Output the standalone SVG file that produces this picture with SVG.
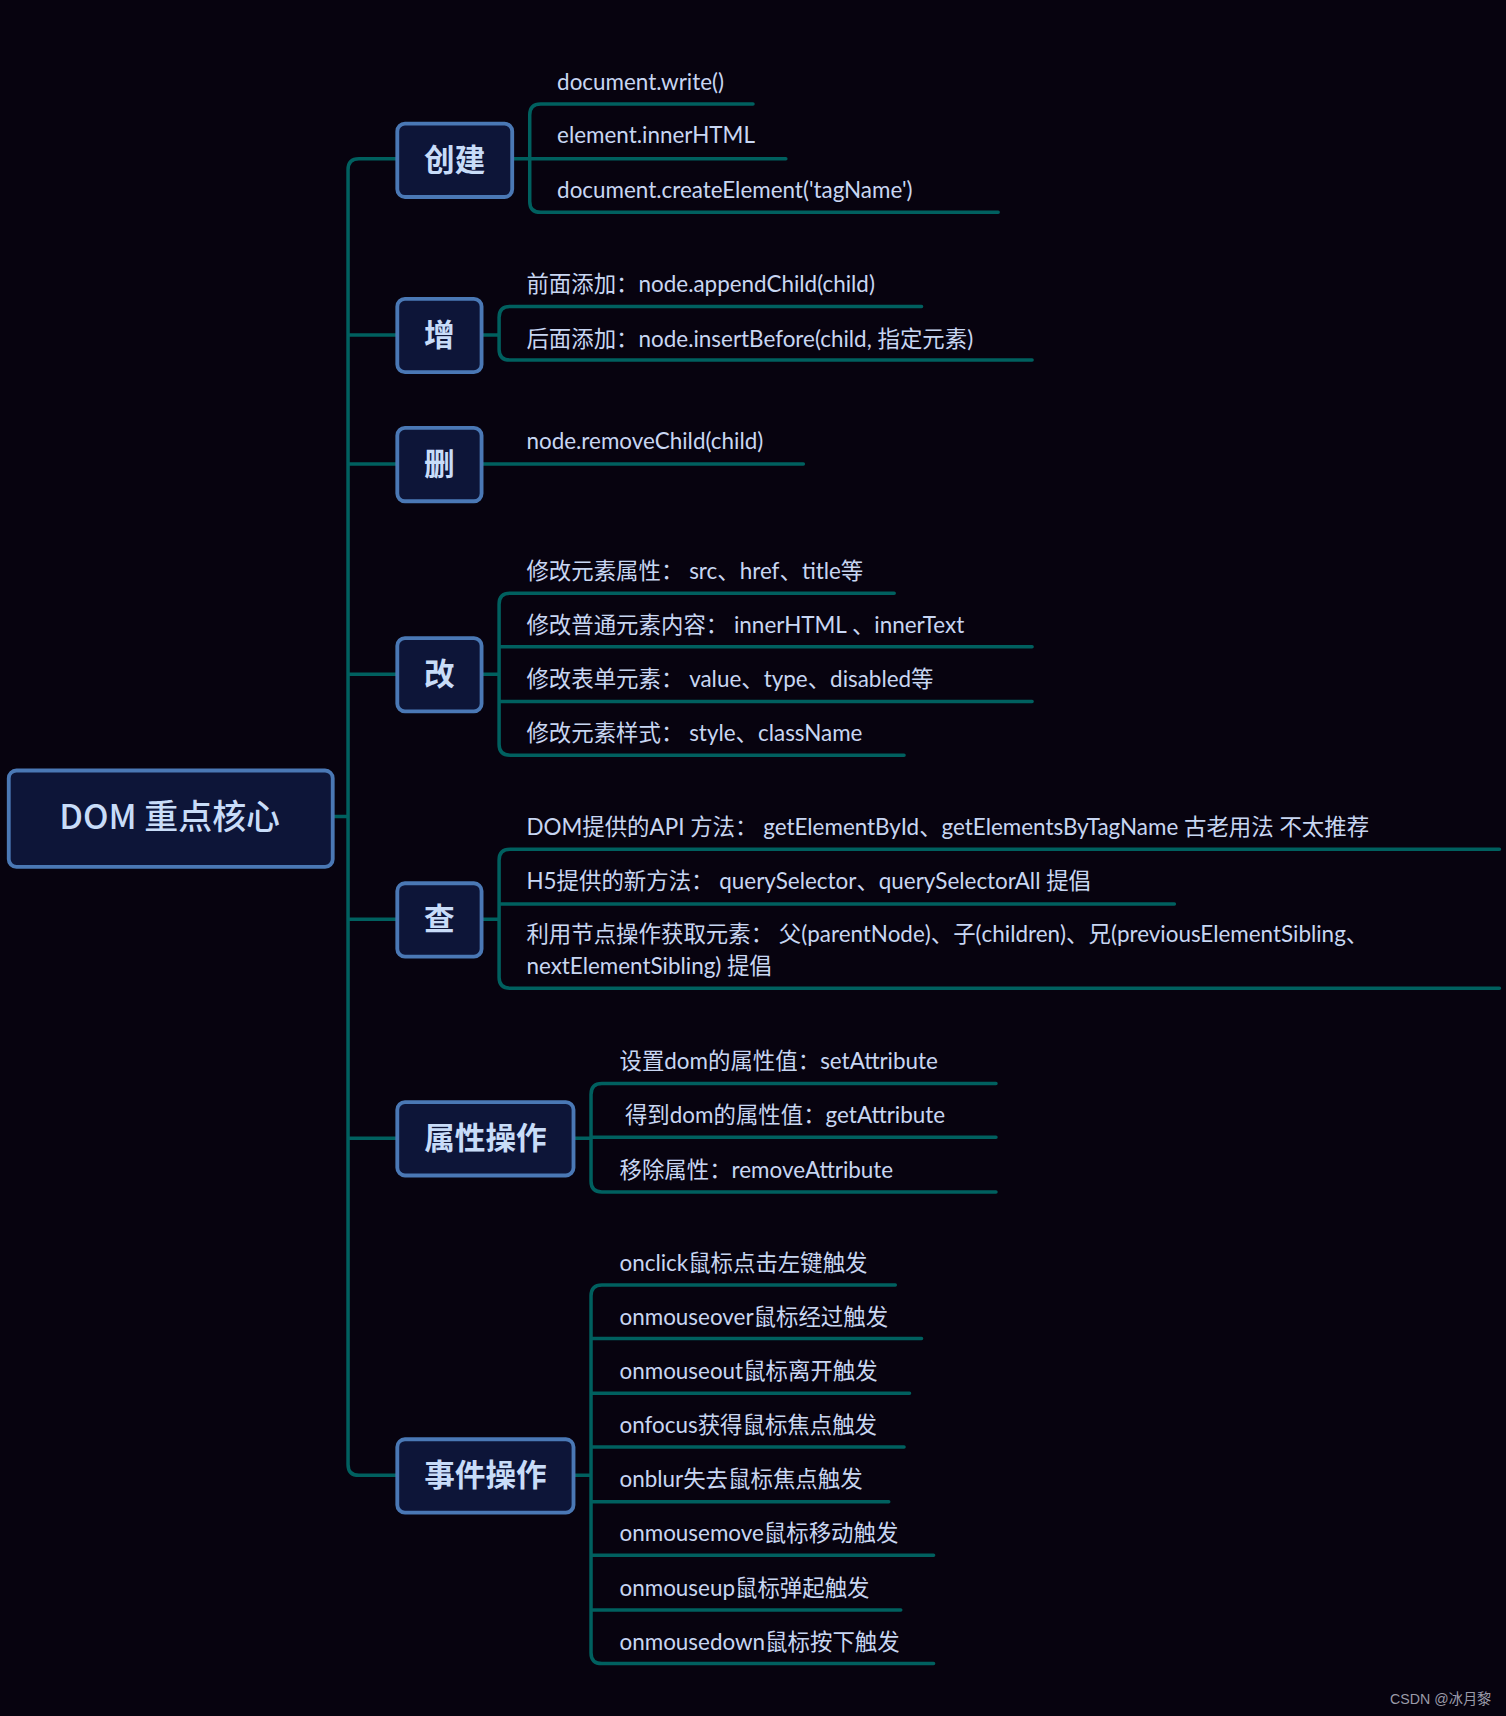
<svg xmlns="http://www.w3.org/2000/svg" width="1506" height="1716" viewBox="0 0 1506 1716">
<style>
.ln{fill:none;stroke:#00605f;stroke-width:3.2;stroke-linecap:round}
.bx{fill:#0d1538;stroke:#4a78b5;stroke-width:3.5}
.bt{font-family:"Noto Sans CJK SC",sans-serif;font-weight:700;font-size:28px;fill:#c8dcf8;text-anchor:middle}
.lf{font-family:Lato,"Noto Sans CJK SC",sans-serif;font-size:20.5px;fill:#c8d6f2}
</style>
<rect width="1506" height="1716" fill="#07030f"/>
<g transform="scale(1.09448)">
<g id="connectors">
<path class="ln" d="M304,746 H318 M363,145 H328 Q318,145 318,155 V1338 Q318,1348 328,1348 H363 M318,306 H363 M318,424 H363 M318,616 H363 M318,840 H363 M318,1040 H363"/>
<path class="ln" d="M688,95 H494 Q484,95 484,105 V184 Q484,194 494,194 H912 M468,145 H718"/>
<path class="ln" d="M842,280 H466 Q456,280 456,290 V319 Q456,329 466,329 H943 M440,306 H456"/>
<path class="ln" d="M440,424 H734"/>
<path class="ln" d="M817,542 H466 Q456,542 456,552 V680 Q456,690 466,690 H826 M456,591 H943 M456,641 H943 M440,616 H456"/>
<path class="ln" d="M1370,776 H466 Q456,776 456,786 V893 Q456,903 466,903 H1370 M456,826 H1073 M440,840 H456"/>
<path class="ln" d="M910,990 H550 Q540,990 540,1000 V1079 Q540,1089 550,1089 H910 M540,1039 H910 M524,1040 H540"/>
<path class="ln" d="M818,1174 H550 Q540,1174 540,1184 V1510 Q540,1520 550,1520 H853 M540,1223 H842 M540,1273 H831 M540,1322 H826 M540,1372 H812 M540,1421 H853 M540,1471 H823 M524,1348 H540"/>
</g>
<g id="root"><rect class="bx" x="8" y="704" width="296" height="88" rx="7"/><text class="bt" x="155" y="757" style="font-weight:500;font-size:31px">DOM 重点核心</text></g>
<g id="n-create"><rect class="bx" x="363" y="113" width="105" height="67" rx="7"/><text class="bt" x="415.5" y="156">创建</text></g>
<g id="n-add"><rect class="bx" x="363" y="273" width="77" height="67" rx="7"/><text class="bt" x="401.5" y="316">增</text></g>
<g id="n-del"><rect class="bx" x="363" y="391" width="77" height="67" rx="7"/><text class="bt" x="401.5" y="434">删</text></g>
<g id="n-mod"><rect class="bx" x="363" y="583" width="77" height="67" rx="7"/><text class="bt" x="401.5" y="626">改</text></g>
<g id="n-query"><rect class="bx" x="363" y="807" width="77" height="67" rx="7"/><text class="bt" x="401.5" y="850">查</text></g>
<g id="n-attr"><rect class="bx" x="363" y="1007" width="161" height="67" rx="7"/><text class="bt" x="443.5" y="1050">属性操作</text></g>
<g id="n-event"><rect class="bx" x="363" y="1315" width="161" height="67" rx="7"/><text class="bt" x="443.5" y="1358">事件操作</text></g>
<g id="leaves">
<text class="lf" x="509" y="82">document.write()</text>
<text class="lf" x="509" y="131">element.innerHTML</text>
<text class="lf" x="509" y="181">document.createElement('tagName')</text>
<text class="lf" x="481" y="267">前面添加：node.appendChild(child)</text>
<text class="lf" x="481" y="317">后面添加：node.insertBefore(child, 指定元素)</text>
<text class="lf" x="481" y="410">node.removeChild(child)</text>
<text class="lf" x="481" y="529">修改元素属性： src、href、title等</text>
<text class="lf" x="481" y="578">修改普通元素内容： innerHTML 、innerText</text>
<text class="lf" x="481" y="628">修改表单元素： value、type、disabled等</text>
<text class="lf" x="481" y="677">修改元素样式： style、className</text>
<text class="lf" x="481" y="763">DOM提供的API 方法： getElementById、getElementsByTagName 古老用法 不太推荐</text>
<text class="lf" x="481" y="812">H5提供的新方法： querySelector、querySelectorAll 提倡</text>
<text class="lf" x="481" y="861">利用节点操作获取元素： 父(parentNode)、子(children)、兄(previousElementSibling、</text>
<text class="lf" x="481" y="890">nextElementSibling) 提倡</text>
<text class="lf" x="566" y="977">设置dom的属性值：setAttribute</text>
<text class="lf" x="571" y="1026">得到dom的属性值：getAttribute</text>
<text class="lf" x="566" y="1076">移除属性：removeAttribute</text>
<text class="lf" x="566" y="1161">onclick鼠标点击左键触发</text>
<text class="lf" x="566" y="1211">onmouseover鼠标经过触发</text>
<text class="lf" x="566" y="1260">onmouseout鼠标离开触发</text>
<text class="lf" x="566" y="1309">onfocus获得鼠标焦点触发</text>
<text class="lf" x="566" y="1359">onblur失去鼠标焦点触发</text>
<text class="lf" x="566" y="1408">onmousemove鼠标移动触发</text>
<text class="lf" x="566" y="1458">onmouseup鼠标弹起触发</text>
<text class="lf" x="566" y="1508">onmousedown鼠标按下触发</text>
<text x="1270" y="1557" style="font-family:'Liberation Sans','Noto Sans CJK SC',sans-serif;font-size:13px;fill:#9a9aa8">CSDN @冰月黎</text>
</g>
</g>
</svg>
